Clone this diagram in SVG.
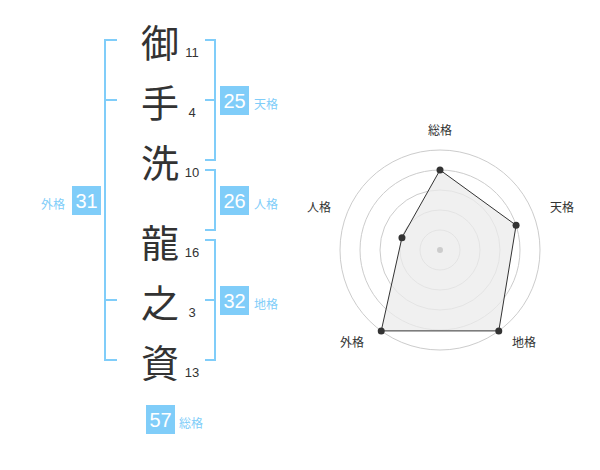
<svg xmlns="http://www.w3.org/2000/svg" width="600" height="470" viewBox="0 0 600 470">
<style>
.ch{font-family:"Noto Sans CJK JP","Noto Sans CJK SC",sans-serif;font-size:38px;fill:#333;text-anchor:middle;dominant-baseline:central}
.st{font-family:"Liberation Sans",Arial,sans-serif;font-size:13px;fill:#333;text-anchor:middle}
.br{fill:none;stroke:#80cdf9;stroke-width:2}
.box{fill:#80cdf9}
.bn{font-family:"Liberation Sans",Arial,sans-serif;font-size:20px;fill:#fff;text-anchor:middle;dominant-baseline:central}
.bl{font-family:"Noto Sans CJK JP","Noto Sans CJK SC",sans-serif;font-size:12px;fill:#80cdf9}
.rl{font-family:"Noto Sans CJK JP","Noto Sans CJK SC",sans-serif;font-size:12px;fill:#333;text-anchor:middle}
.ring{fill:none;stroke:#ccc;stroke-width:1}
.pt{fill:#333}
</style>
<g id="connectors">
<path class="br" d="M117,40 H105 V360 H117 M105,100 H117 M105,300 H117"/>
<path class="br" d="M205,40 H215 V160 H205 M215,100 H205"/>
<path class="br" d="M205,170 H215 V230 H205"/>
<path class="br" d="M205,240 H215 V360 H205 M215,300 H205"/>
</g>
<g id="char1"><text class="ch" x="160" y="40">御</text><text class="st" x="192" y="57">11</text></g>
<g id="char2"><text class="ch" x="160" y="100">手</text><text class="st" x="192" y="117">4</text></g>
<g id="char3"><text class="ch" x="160" y="160">洗</text><text class="st" x="192" y="177">10</text></g>
<g id="char4"><text class="ch" x="160" y="240">龍</text><text class="st" x="192" y="257">16</text></g>
<g id="char5"><text class="ch" x="160" y="300">之</text><text class="st" x="192" y="317">3</text></g>
<g id="char6"><text class="ch" x="160" y="360">資</text><text class="st" x="192" y="377">13</text></g>
<g id="tenkaku"><rect class="box" x="220" y="86" width="29" height="29"/><text class="bn" x="234.5" y="100.5">25</text><text class="bl" x="254" y="109">天格</text></g>
<g id="jinkaku"><rect class="box" x="220" y="186" width="29" height="29"/><text class="bn" x="234.5" y="200.5">26</text><text class="bl" x="254" y="209">人格</text></g>
<g id="chikaku"><rect class="box" x="220" y="286" width="29" height="29"/><text class="bn" x="234.5" y="300.5">32</text><text class="bl" x="254" y="309">地格</text></g>
<g id="gaikaku"><rect class="box" x="72" y="186" width="29" height="29"/><text class="bn" x="86.5" y="200.5">31</text><text class="bl" x="41" y="209">外格</text></g>
<g id="soukaku"><rect class="box" x="146" y="405" width="29" height="29"/><text class="bn" x="160.5" y="419.5">57</text><text class="bl" x="179" y="428">総格</text></g>
<g id="radar">
<circle class="ring" cx="440" cy="250" r="20"/>
<circle class="ring" cx="440" cy="250" r="40"/>
<circle class="ring" cx="440" cy="250" r="60"/>
<circle class="ring" cx="440" cy="250" r="80"/>
<circle class="ring" cx="440" cy="250" r="100"/>
<polygon points="440,170 516.08,225.28 498.78,330.9 381.22,330.9 401.96,237.64" fill="#ebebeb" fill-opacity="0.75" stroke="#333" stroke-width="1"/>
<circle cx="440" cy="250" r="3" fill="#ccc"/>
<circle class="pt" cx="440" cy="170" r="3.5"/>
<circle class="pt" cx="516.08" cy="225.28" r="3.5"/>
<circle class="pt" cx="498.78" cy="330.9" r="3.5"/>
<circle class="pt" cx="381.22" cy="330.9" r="3.5"/>
<circle class="pt" cx="401.96" cy="237.64" r="3.5"/>
<text class="rl" x="440" y="135">総格</text>
<text class="rl" x="562" y="212">天格</text>
<text class="rl" x="524" y="347">地格</text>
<text class="rl" x="352" y="347">外格</text>
<text class="rl" x="319" y="212">人格</text>
</g>
</svg>
